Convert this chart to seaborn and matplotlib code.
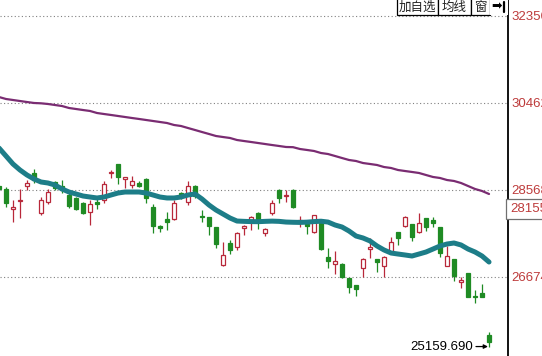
#!/usr/bin/env python3
"""Daily candlestick chart with two moving averages (trading software look)."""

import matplotlib
matplotlib.use("Agg")
import matplotlib.pyplot as plt
import matplotlib.transforms as mtransforms
from matplotlib.patches import Rectangle
from matplotlib.lines import Line2D
import seaborn as sns

# candle index, -1 is the one cut off by the left edge
day = list(range(-1, 70))

open_ = [28655, 28590, 28154, 28318, 28655, 28938, 28067, 28306, 28742, 28655,
         28459, 28394, 28285, 28089, 28306, 28350, 28930, 29134, 28807, 28676,
         28720, 28807, 28198, 27784, 27936, 27936, 28502, 28306, 28655, 28010,
         27980, 27762, 26935, 27414, 27327, 27740, 27871, 28067, 27632, 28067,
         28568, 28437, 28568, 27871, 27827, 27653, 27849, 27109, 26957, 26957,
         26652, 26500, 26870, 27283, 27066, 26913, 27218, 27653, 27784, 27827,
         27653, 27958, 27914, 27762, 26913, 27066, 26565, 26761, 26250, 26326,
         25411]
high = [28698, 28633, 28350, 28590, 28785, 29025, 28415, 28590, 28764, 28785,
        28502, 28415, 28306, 28350, 28394, 28764, 29003, 29134, 28851, 28873,
        28764, 28829, 28263, 27806, 28089, 28350, 28524, 28764, 28676, 28132,
        27990, 27770, 27436, 27479, 27653, 27806, 28001, 28089, 27740, 28350,
        28590, 28568, 28590, 28001, 27871, 28023, 27871, 27305, 27240, 26979,
        26652, 26500, 27087, 27523, 27066, 27130, 27545, 27653, 28001, 27827,
        28067, 27958, 27980, 27762, 27349, 27066, 26674, 26761, 26391, 26521,
        25477]
low = [28546, 28198, 27871, 27958, 28568, 28720, 28023, 28263, 28568, 28502,
       28176, 28132, 28045, 27806, 28154, 28285, 28829, 28698, 28611, 28611,
       28633, 28285, 27632, 27653, 27697, 27914, 28372, 28241, 28394, 27871,
       27588, 27305, 26913, 27174, 27262, 27588, 27697, 27719, 27566, 28023,
       28285, 28306, 28176, 27762, 27610, 27632, 27262, 26870, 26739, 26652,
       26326, 26260, 26674, 27087, 26783, 26674, 27218, 27371, 27762, 27458,
       27632, 27675, 27762, 27109, 26913, 26587, 26434, 26238, 26108, 26238,
       25159.69]
close = [28590, 28285, 28198, 28340, 28720, 28785, 28350, 28524, 28611, 28568,
         28219, 28154, 28067, 28263, 28263, 28698, 28945, 28851, 28840, 28764,
         28655, 28394, 27784, 27740, 27871, 28285, 28459, 28655, 28437, 27990,
         27784, 27392, 27153, 27262, 27632, 27784, 27980, 27936, 27719, 28285,
         28394, 28459, 28198, 27914, 27784, 28023, 27283, 27022, 27022, 26674,
         26456, 26413, 27066, 27327, 27000, 27109, 27436, 27523, 27980, 27545,
         27849, 27762, 27849, 27196, 27131, 26695, 26608, 26238, 26230, 26238,
         25259]

# short (teal) and long (purple) moving averages, one value per candle
ma_short = [29482, 29308, 29134, 29003, 28894, 28807, 28742, 28720, 28676, 28590,
            28524, 28481, 28437, 28415, 28394, 28415, 28459, 28502, 28524, 28524,
            28524, 28502, 28459, 28415, 28394, 28394, 28415, 28459, 28481, 28372,
            28241, 28132, 28045, 27958, 27892, 27885, 27880, 27878, 27885, 27890,
            27885, 27870, 27865, 27862, 27868, 27880, 27888, 27870, 27806, 27762,
            27675, 27566, 27523, 27458, 27349, 27262, 27196, 27174, 27153, 27131,
            27174, 27218, 27283, 27349, 27392, 27414, 27371, 27283, 27218, 27131,
            27000]
ma_long = [30592, 30549, 30527, 30505, 30483, 30462, 30455, 30440, 30418, 30396,
           30353, 30331, 30309, 30288, 30244, 30222, 30201, 30179, 30157, 30135,
           30114, 30092, 30070, 30048, 30026, 29983, 29961, 29917, 29874, 29830,
           29787, 29743, 29721, 29700, 29656, 29634, 29613, 29591, 29569, 29547,
           29526, 29504, 29500, 29460, 29439, 29417, 29373, 29351, 29308, 29264,
           29221, 29199, 29155, 29134, 29112, 29068, 29047, 29003, 28981, 28960,
           28938, 28894, 28851, 28829, 28785, 28764, 28720, 28655, 28590, 28546,
           28481]

grid_levels = [32356, 30462, 28568, 26674]
grid_labels = ["32356", "30462", "28568", "26674"]
mark_price = 28155
mark_label = "28155"
low_price = 25159.69
low_label = "25159.690"
buttons = ["加自选", "均线", "窗"]

UP = "#b8283a"
DOWN = "#1f8b24"
TEAL = "#1d7d88"
PURPLE = "#7a2c72"
LABEL = "#bd3b3b"

W, H = 542, 356


def px(x, y):
    """pixel position (from top-left) -> figure fraction"""
    return x / W, 1 - y / H


def main():
    sns.set_style("white")
    plt.rcParams['font.family'] = ['Liberation Sans', 'Noto Sans CJK SC', 'DejaVu Sans']

    fig = plt.figure(figsize=(W / 100, H / 100), dpi=100)
    ax = fig.add_axes([0, 0, 508 / W, 1])

    # dotted price levels
    for lvl in grid_levels:
        ax.axhline(lvl, color="#808080", lw=0.8, ls=(0, (1, 2.2)), zorder=0)

    # candles
    for d, o, h, l, c in zip(day, open_, high, low, close):
        up = c >= o
        col = UP if up else DOWN
        ax.vlines(d, l, h, color=col, lw=0.9, zorder=2)
        bottom = min(o, c)
        height = max(abs(c - o), 22)
        ax.bar(d, height, bottom=bottom, width=0.68,
               facecolor="white" if up else DOWN, edgecolor=col,
               linewidth=0.9, zorder=2.5)

    # moving averages
    sns.lineplot(x=day, y=ma_long, ax=ax, color=PURPLE, linewidth=1.6,
                 zorder=3, legend=False)
    sns.lineplot(x=day, y=ma_short, ax=ax, color=TEAL, linewidth=3.6,
                 zorder=3.5, legend=False)

    ax.set_xlim(-0.857, 71.71)
    ax.set_ylim(24954, 32704)
    ax.set_xticks([])
    ax.set_xlabel("")
    ax.set_ylabel("")

    ax.yaxis.tick_right()
    ax.set_yticks(grid_levels)
    ax.set_yticklabels(grid_labels)
    ax.tick_params(axis="y", length=0, pad=2.5, labelsize=9.5, labelcolor=LABEL)
    for s in ["left", "top", "bottom"]:
        ax.spines[s].set_visible(False)
    ax.spines["right"].set_color("black")
    ax.spines["right"].set_linewidth(1.3)

    # highlighted price box on the axis
    trans = mtransforms.blended_transform_factory(ax.transAxes, ax.transData)
    ax.text(1.0 + 2.5 / 508, mark_price, mark_label, transform=trans,
            ha="left", va="center", fontsize=9.5, color=LABEL, clip_on=False,
            bbox=dict(boxstyle="square,pad=0.32", fc="white", ec="#707070", lw=0.9))

    # lowest price marker
    ax.annotate(low_label, xy=(day[-1] - 0.15, low_price), xytext=(-11, 0),
                textcoords="offset points", ha="right", va="center",
                fontsize=9.5, color="black",
                arrowprops=dict(arrowstyle="-|>", color="black", lw=0.9,
                                mutation_scale=6, shrinkA=0, shrinkB=0))

    # toolbar buttons in the top-right corner
    edges = [397, 438, 471, 490]
    for name, x0, x1 in zip(buttons, edges[:-1], edges[1:]):
        fig.add_artist(Rectangle(px(x0, 15), (x1 - x0) / W, 17 / H,
                                 transform=fig.transFigure, facecolor="white",
                                 edgecolor="black", lw=0.9, zorder=5))
        fig.text(*px((x0 + x1) / 2, 7.5), name, ha="center", va="center",
                 fontsize=9, color="#222222", zorder=6)
    fig.add_artist(Rectangle(px(490, 15), 18 / W, 17 / H, transform=fig.transFigure,
                             facecolor="white", edgecolor="none", zorder=5))
    fig.text(*px(497, 7), "➡", ha="center", va="center", fontsize=9,
             family="DejaVu Sans", color="black", zorder=6)
    fig.add_artist(Line2D([503.5 / W, 503.5 / W], [1 - 2 / H, 1 - 12 / H],
                          transform=fig.transFigure, color="black", lw=1.6, zorder=6))

    plt.savefig("out.png", dpi=100)
    plt.close("all")


if __name__ == "__main__":
    main()
